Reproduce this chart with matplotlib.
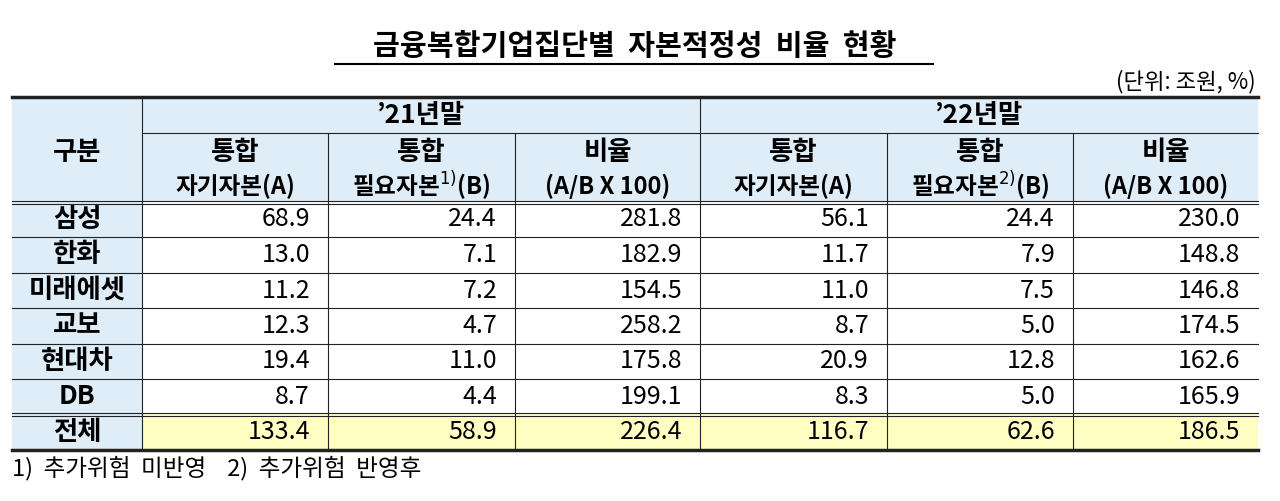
import matplotlib
matplotlib.use("Agg")
import matplotlib.pyplot as plt
from matplotlib.patches import Rectangle

plt.rcParams['font.family'] = ['Noto Sans CJK KR', 'DejaVu Sans']

title = "금융복합기업집단별  자본적정성  비율  현황"
unit = "(단위: 조원, %)"
groups = ["’21년말", "’22년말"]
col_heads = [("통합", "자기자본(A)"), ("통합", "필요자본$^{1)}$(B)"), ("비율", "(A/B X 100)"),
             ("통합", "자기자본(A)"), ("통합", "필요자본$^{2)}$(B)"), ("비율", "(A/B X 100)")]
companies = ["삼성", "한화", "미래에셋", "교보", "현대차", "DB", "전체"]
own21 = [68.9, 13.0, 11.2, 12.3, 19.4, 8.7, 133.4]
req21 = [24.4, 7.1, 7.2, 4.7, 11.0, 4.4, 58.9]
ratio21 = [281.8, 182.9, 154.5, 258.2, 175.8, 199.1, 226.4]
own22 = [56.1, 11.7, 11.0, 8.7, 20.9, 8.3, 116.7]
req22 = [24.4, 7.9, 7.5, 5.0, 12.8, 5.0, 62.6]
ratio22 = [230.0, 148.8, 146.8, 174.5, 162.6, 165.9, 186.5]
footnote = "1)  추가위험  미반영    2)  추가위험  반영후"

cols = [own21, req21, ratio21, own22, req22, ratio22]

fig = plt.figure(figsize=(12.8, 5.01), dpi=100)
ax = fig.add_axes([0, 0, 1, 1])
ax.set_xlim(0, 1280); ax.set_ylim(501, 0); ax.axis('off')

xs = [12, 142, 328, 515, 700, 887, 1073, 1258]
top, mid, hb = 97, 133, 202
rows = [202, 237, 273, 308, 344, 379, 414, 450]
blue = '#deedf8'; yellow = '#ffffc4'

ax.add_patch(Rectangle((xs[0], top), xs[-1]-xs[0], hb-top, color=blue, lw=0))
ax.add_patch(Rectangle((xs[0], hb), xs[1]-xs[0], rows[-1]-hb, color=blue, lw=0))
ax.add_patch(Rectangle((xs[1], rows[6]), xs[-1]-xs[1], rows[7]-rows[6], color=yellow, lw=0))

k = dict(color='#222222')
ax.plot([xs[0], xs[-1]], [top, top], lw=2.5, **k)
ax.plot([xs[0], xs[-1]], [rows[-1], rows[-1]], lw=2.5, **k)
ax.plot([xs[1], xs[-1]], [mid, mid], lw=0.8, **k)
for y in (hb - 1.5, hb + 1.5, rows[6] - 1.5, rows[6] + 1.5):
    ax.plot([xs[0], xs[-1]], [y, y], lw=0.8, **k)
for y in rows[1:6]:
    ax.plot([xs[0], xs[-1]], [y, y], lw=0.8, **k)
ax.plot([xs[1], xs[1]], [top, rows[-1]], lw=0.8, **k)
ax.plot([xs[4], xs[4]], [top, rows[-1]], lw=0.8, **k)
for x in xs[2:4] + xs[5:7]:
    ax.plot([x, x], [mid, rows[-1]], lw=0.8, **k)

ax.text(635, 46, title, ha='center', va='center', fontsize=21, fontweight='bold', color='black')
ax.plot([335, 933], [64, 64], lw=1.5, color='black')
ax.text(1256, 82, unit, ha='right', va='center', fontsize=16, color='black')

ax.text(77, 152, "구분", ha='center', va='center', fontsize=19, fontweight='bold')
ax.text((xs[1]+xs[4])/2, 115, groups[0], ha='center', va='center', fontsize=19, fontweight='bold')
ax.text((xs[4]+xs[7])/2, 115, groups[1], ha='center', va='center', fontsize=19, fontweight='bold')
for i, (a, b) in enumerate(col_heads):
    cx = (xs[i+1]+xs[i+2])/2
    ax.text(cx, 152, a, ha='center', va='center', fontsize=19, fontweight='bold')
    ax.text(cx, 186, b, ha='center', va='center', fontsize=17, fontweight='bold')

for r, name in enumerate(companies):
    cy = (rows[r]+rows[r+1])/2
    ax.text(77, cy, name, ha='center', va='center', fontsize=19, fontweight='bold')
    for c, vals in enumerate(cols):
        ax.text(xs[c+2]-18, cy, f"{vals[r]:.1f}", ha='right', va='center', fontsize=18)

ax.text(12, 468, footnote, ha='left', va='center', fontsize=17)
fig.savefig("out.png", dpi=100)
